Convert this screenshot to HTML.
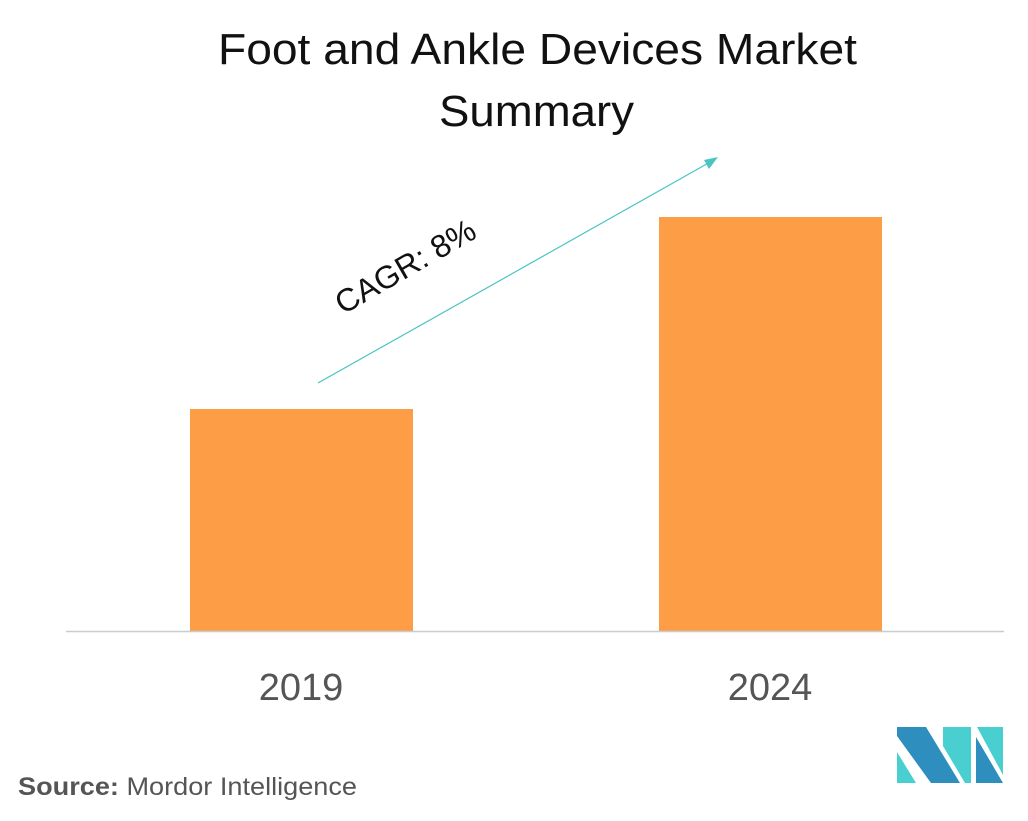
<!DOCTYPE html>
<html><head><style>
body{margin:0;background:#fff;}
svg{display:block;}
text{font-family:"Liberation Sans",sans-serif;}
</style></head><body>
<svg width="1028" height="821" viewBox="0 0 1028 821" xmlns="http://www.w3.org/2000/svg">
<text x="218" y="64" font-size="44" textLength="639" lengthAdjust="spacingAndGlyphs" fill="#111">Foot and Ankle Devices Market</text>
<text x="439" y="126" font-size="44" textLength="195" lengthAdjust="spacingAndGlyphs" fill="#111">Summary</text>
<rect x="190" y="409" width="223" height="222" fill="#fd9d46"/>
<rect x="659" y="217" width="223" height="414" fill="#fd9d46"/>
<line x1="66" y1="631.5" x2="1004" y2="631.5" stroke="#ccc" stroke-width="1.5"/>
<line x1="318" y1="383" x2="712" y2="161" stroke="#4bc4c4" stroke-width="1.2"/>
<polygon points="718,157 704,160 709,169" fill="#4bc4c4"/>
<text x="0" y="0" font-size="32" fill="#111" transform="translate(343,315) rotate(-30)">CAGR: 8%</text>
<text x="301" y="700" font-size="38" text-anchor="middle" fill="#555">2019</text>
<text x="770" y="700" font-size="38" text-anchor="middle" fill="#555">2024</text>
<text x="18" y="795" font-size="25" textLength="339" lengthAdjust="spacingAndGlyphs" fill="#555"><tspan font-weight="bold">Source:</tspan> Mordor Intelligence</text>
<polygon points="897,727 926,727 960,783 931,783 897,736" fill="#2e8fbf"/>
<polygon points="897,752 897,783 916,783" fill="#4acfd0"/>
<polygon points="943,727 971,727 971,783 965,783 943,746" fill="#4acfd0"/>
<polygon points="976,737 976,783 1003,783" fill="#2e8fbf"/>
<polygon points="977,727 1003,727 1003,775" fill="#4acfd0"/>
</svg>
</body></html>
